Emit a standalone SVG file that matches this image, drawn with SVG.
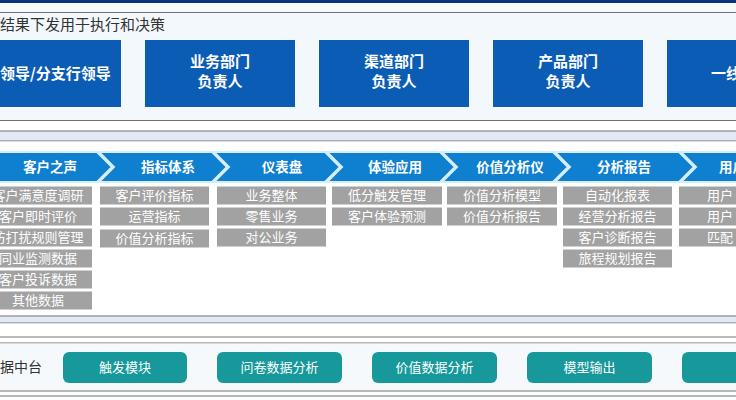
<svg xmlns="http://www.w3.org/2000/svg" width="736" height="400" viewBox="0 0 736 400">
<style>
text{font-family:"Noto Sans CJK SC","Liberation Sans",sans-serif;}
.line{stroke:#6f7274;stroke-width:1;fill:none;}
.band{fill:#e4e8f7;}
.bluebox{fill:#0b5cb5;}
.bt{fill:#ffffff;font-size:15px;font-weight:bold;text-anchor:middle;}
.chev{fill:#0f80cf;stroke:#d6eefa;stroke-width:2;stroke-linejoin:miter;}
.ct{fill:#ffffff;font-size:13.5px;font-weight:bold;text-anchor:middle;}
.gbox{fill:#a2a2a2;}
.gt{fill:#ffffff;font-size:13px;text-anchor:middle;}
.teal{fill:#17999b;}
.tt{fill:#ffffff;font-size:13px;text-anchor:middle;}
.label{fill:#333333;font-size:15px;}
</style>
<rect x="0" y="0" width="736" height="400" fill="#fbfdfe"/>
<rect x="0" y="0" width="736" height="3" fill="#0b2f7c"/>
<rect x="0" y="3" width="736" height="9" fill="#f4f9fc"/>
<!-- top panel -->
<rect x="0" y="12" width="736" height="108" fill="#f3f8fc"/>
<line class="line" x1="0" y1="12.5" x2="736" y2="12.5"/>
<line class="line" x1="0" y1="120.5" x2="736" y2="120.5"/>
<rect x="0" y="121" width="736" height="10" fill="#ffffff"/>
<rect class="band" x="0" y="131" width="736" height="10"/>
<line class="line" x1="0" y1="131" x2="736" y2="131"/>
<line class="line" x1="0" y1="141" x2="736" y2="141"/>
<rect x="0" y="141.5" width="736" height="174" fill="#ffffff"/>
<rect class="band" x="0" y="316" width="736" height="7"/>
<line class="line" x1="0" y1="316" x2="736" y2="316"/>
<line class="line" x1="0" y1="323" x2="736" y2="323"/>
<rect x="0" y="323.5" width="736" height="20" fill="#ffffff"/>
<line class="line" x1="0" y1="337" x2="736" y2="337"/>
<line class="line" x1="0" y1="343" x2="736" y2="343"/>
<rect x="0" y="343.5" width="736" height="47" fill="#f6f9fb"/>
<line class="line" x1="0" y1="391" x2="736" y2="391"/>
<line class="line" x1="0" y1="396" x2="736" y2="396"/>

<text class="label" x="0" y="30">结果下发用于执行和决策</text>

<g id="top-boxes">
<g id="box-leaders"><rect class="bluebox" x="-29" y="40" width="150" height="67"/><text class="bt" x="0" y="79" style="text-anchor:start">领导/分支行领导</text></g>
<g id="box-business"><rect class="bluebox" x="145" y="40" width="150" height="67"/><text class="bt" x="220" y="67">业务部门</text><text class="bt" x="220" y="87">负责人</text></g>
<g id="box-channel"><rect class="bluebox" x="319" y="40" width="150" height="67"/><text class="bt" x="394" y="67">渠道部门</text><text class="bt" x="394" y="87">负责人</text></g>
<g id="box-product"><rect class="bluebox" x="493" y="40" width="150" height="67"/><text class="bt" x="568" y="67">产品部门</text><text class="bt" x="568" y="87">负责人</text></g>
<g id="box-frontline"><rect class="bluebox" x="667" y="40" width="150" height="67"/><text class="bt" x="711" y="79" style="text-anchor:start">一线</text></g>
</g>

<g id="connectors"></g>

<g id="chevrons">
<g id="chev-voice"><polygon class="chev" points="-30,152 97,152 112,167 97,182 -30,182 -15,167"/><text class="ct" x="50" y="172">客户之声</text></g>
<g id="chev-index"><polygon class="chev" points="99,152 212,152 227,167 212,182 99,182 114,167"/><text class="ct" x="168" y="172">指标体系</text></g>
<g id="chev-dashboard"><polygon class="chev" points="214,152 325,152 340,167 325,182 214,182 229,167"/><text class="ct" x="282" y="172">仪表盘</text></g>
<g id="chev-experience"><polygon class="chev" points="327,152 440,152 455,167 440,182 327,182 342,167"/><text class="ct" x="395" y="172">体验应用</text></g>
<g id="chev-value"><polygon class="chev" points="442,152 553,152 568,167 553,182 442,182 457,167"/><text class="ct" x="510" y="172">价值分析仪</text></g>
<g id="chev-report"><polygon class="chev" points="555,152 679,152 694,167 679,182 555,182 570,167"/><text class="ct" x="624" y="172">分析报告</text></g>
<g id="chev-user"><polygon class="chev" points="681,152 800,152 815,167 800,182 681,182 696,167"/><text class="ct" x="719" y="172" style="text-anchor:start">用户</text></g>
</g>

<g id="col-voice">
<rect class="gbox" x="-16" y="186.5" width="108" height="18"/><text class="gt" x="38" y="200">客户满意度调研</text>
<rect class="gbox" x="-16" y="207.5" width="108" height="18"/><text class="gt" x="38" y="221">客户即时评价</text>
<rect class="gbox" x="-16" y="228.5" width="108" height="18"/><text class="gt" x="38" y="242">防打扰规则管理</text>
<rect class="gbox" x="-16" y="249.5" width="108" height="18"/><text class="gt" x="38" y="263">同业监测数据</text>
<rect class="gbox" x="-16" y="270.5" width="108" height="18"/><text class="gt" x="38" y="284">客户投诉数据</text>
<rect class="gbox" x="-16" y="291.5" width="108" height="18"/><text class="gt" x="38" y="305">其他数据</text>
</g>
<g id="col-index">
<rect class="gbox" x="100" y="186.5" width="109" height="18"/><text class="gt" x="154.5" y="200">客户评价指标</text>
<rect class="gbox" x="100" y="207.5" width="109" height="18"/><text class="gt" x="154.5" y="221">运营指标</text>
<rect class="gbox" x="100" y="229.5" width="109" height="18"/><text class="gt" x="154.5" y="243">价值分析指标</text>
</g>
<g id="col-dashboard">
<rect class="gbox" x="217" y="186.5" width="109" height="18"/><text class="gt" x="271.5" y="200">业务整体</text>
<rect class="gbox" x="217" y="207.5" width="109" height="18"/><text class="gt" x="271.5" y="221">零售业务</text>
<rect class="gbox" x="217" y="228.5" width="109" height="18"/><text class="gt" x="271.5" y="242">对公业务</text>
</g>
<g id="col-experience">
<rect class="gbox" x="332" y="186.5" width="110" height="18"/><text class="gt" x="387" y="200">低分触发管理</text>
<rect class="gbox" x="332" y="207.5" width="110" height="18"/><text class="gt" x="387" y="221">客户体验预测</text>
</g>
<g id="col-value">
<rect class="gbox" x="447" y="186.5" width="110" height="18"/><text class="gt" x="502" y="200">价值分析模型</text>
<rect class="gbox" x="447" y="207.5" width="110" height="18"/><text class="gt" x="502" y="221">价值分析报告</text>
</g>
<g id="col-report">
<rect class="gbox" x="563" y="186.5" width="109" height="18"/><text class="gt" x="617.5" y="200">自动化报表</text>
<rect class="gbox" x="563" y="207.5" width="109" height="18"/><text class="gt" x="617.5" y="221">经营分析报告</text>
<rect class="gbox" x="563" y="228.5" width="109" height="18"/><text class="gt" x="617.5" y="242">客户诊断报告</text>
<rect class="gbox" x="563" y="249.5" width="109" height="18"/><text class="gt" x="617.5" y="263">旅程规划报告</text>
</g>
<g id="col-user">
<rect class="gbox" x="679" y="186.5" width="111" height="18"/><text class="gt" x="707" y="200" style="text-anchor:start">用户</text>
<rect class="gbox" x="679" y="207.5" width="111" height="18"/><text class="gt" x="707" y="221" style="text-anchor:start">用户</text>
<rect class="gbox" x="679" y="228.5" width="111" height="18"/><text class="gt" x="707" y="242" style="text-anchor:start">匹配</text>
</g>

<text class="label" x="0" y="372" style="font-size:14px">据中台</text>
<g id="data-platform">
<g id="btn-trigger"><rect class="teal" x="63" y="352" width="124" height="31" rx="6"/><text class="tt" x="125" y="372">触发模块</text></g>
<g id="btn-survey"><rect class="teal" x="217" y="352" width="125" height="31" rx="6"/><text class="tt" x="279.5" y="372">问卷数据分析</text></g>
<g id="btn-valuedata"><rect class="teal" x="372" y="352" width="125" height="31" rx="6"/><text class="tt" x="434.5" y="372">价值数据分析</text></g>
<g id="btn-model"><rect class="teal" x="527" y="352" width="125" height="31" rx="6"/><text class="tt" x="589.5" y="372">模型输出</text></g>
<g id="btn-more"><rect class="teal" x="682" y="352" width="125" height="31" rx="6"/></g>
</g>
</svg>
